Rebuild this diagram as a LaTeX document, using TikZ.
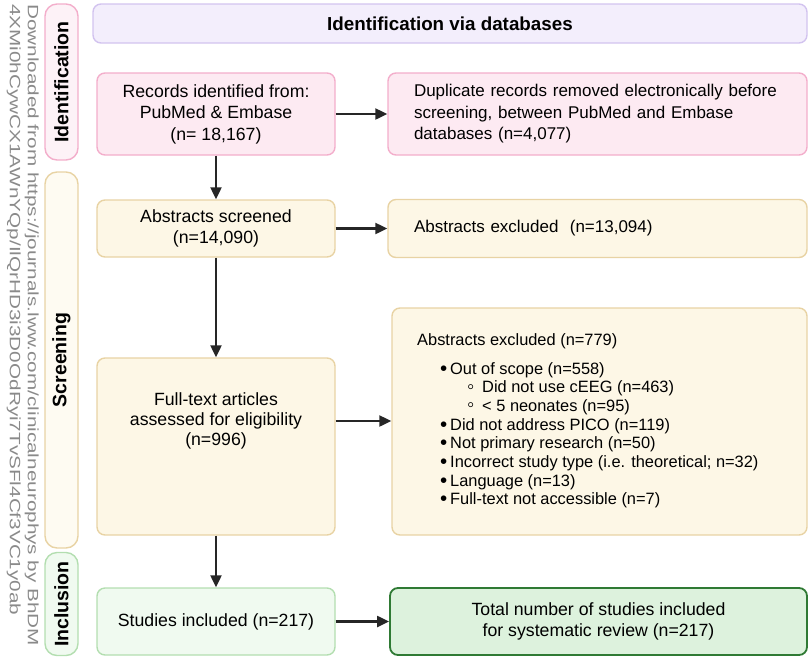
\documentclass[tikz,border=0pt]{standalone}
\usepackage{fontspec}
\setmainfont{Liberation Sans}
\usetikzlibrary{arrows.meta}
\definecolor{pinkF}{HTML}{FDEAF2}
\definecolor{pinkD}{HTML}{F3AECB}
\definecolor{pinkLF}{HTML}{FDF2F7}
\definecolor{headF}{HTML}{F3EEFC}
\definecolor{headD}{HTML}{D2C3EF}
\definecolor{yelF}{HTML}{FDF7E6}
\definecolor{yelD}{HTML}{E8D3A4}
\definecolor{yelLF}{HTML}{FEFBF2}
\definecolor{grnF}{HTML}{F0FAF0}
\definecolor{grnD}{HTML}{B3DEB0}
\definecolor{totF}{HTML}{DDF2DD}
\definecolor{totD}{HTML}{2F7A34}
\definecolor{wmgray}{HTML}{8A8A8A}
\newcommand{\bul}{\makebox[10pt][l]{\raisebox{-1pt}{\scalebox{1.25}{•}}}}
\newcommand{\subbul}{\makebox[15pt][l]{\raisebox{-0.5pt}{\scalebox{1.25}{◦}}}}
\begin{document}
\begin{tikzpicture}[x=1pt,y=-1pt,
  box/.style={draw, rounded corners=8pt, line width=1.4pt, inner sep=0pt, align=center,
    font=\fontsize{17.7}{21.5}\selectfont},
  rbox/.style={box, align=left, inner xsep=26pt, font=\fontsize{17}{21.5}\selectfont},
  sidelab/.style={draw, rounded corners=12pt, line width=1.4pt, rotate=90, inner sep=0pt,
    minimum height=33pt, font=\bfseries\fontsize{19.5}{19.5}\selectfont},
  arr/.style={draw=black!85, line width=2.2pt, -{Triangle[length=12pt,width=11pt]}},
  wm/.style={rotate=-90, anchor=north west, inner sep=0pt, text=wmgray}
]
\useasboundingbox (0,0) rectangle (809,657);

% watermark
\node[wm] (wm1) at (39,4) {\scalebox{1.38}[1]{\fontsize{15}{15}\selectfont Downloaded from https://journals.lww.com/clinicalneurophys by BhDM}};
\node[wm] (wm2) at (21,4) {\scalebox{1.38}[1]{\fontsize{15}{15}\selectfont 4XMi0hCywCX1AWnYQp/IlQrHD3i3D0OdRyi7TvSFl4Cf3VC1y0ab}};

% side labels
\node[sidelab, fill=pinkLF, draw=pinkD, minimum width=156pt] (idlab) at (61.5,82) {Identification};
\node[sidelab, fill=yelLF, draw=yelD, minimum width=376pt] (sclab) at (61.5,360) {Screening};
\node[sidelab, fill=grnF, draw=grnD, minimum width=103pt] (inlab) at (61.5,604) {Inclusion};

% header
\node[box, fill=headF, draw=headD, minimum width=714pt, minimum height=39pt,
  font=\bfseries\fontsize{18.8}{20}\selectfont] (head) at (450,23.5) {Identification via databases};

% identification row
\node[box, fill=pinkF, draw=pinkD, minimum width=238pt, minimum height=82pt] (rec) at (216,114)
  {Records identified from:\\PubMed \& Embase\\(n= 18,167)};
\node[rbox, fill=pinkF, draw=pinkD, text width=367pt, minimum height=82pt] (dup) at (597.5,114)
  {Duplicate records removed electronically before\\screening, between PubMed and Embase\\databases (n=4,077)};

% screening row
\node[box, fill=yelF, draw=yelD, minimum width=238pt, minimum height=57pt] (scr) at (216,228.5)
  {Abstracts screened\\(n=14,090)};
\node[rbox, fill=yelF, draw=yelD, text width=367pt, minimum height=58pt] (absx) at (597.5,228.5)
  {Abstracts excluded~ (n=13,094)};

% full text
\node[box, fill=yelF, draw=yelD, minimum width=238pt, minimum height=177pt] (full) at (216,446.5) {};
\node[align=center, inner sep=0pt, font=\fontsize{17.7}{20}\selectfont] (fulltxt) at (216,421)
  {Full-text articles\\assessed for eligibility\\(n=996)};

\node[box, fill=yelF, draw=yelD, minimum width=415pt, minimum height=227pt] (exc) at (599.5,421.5) {};
\node[anchor=north west, align=left, inner sep=0pt, font=\fontsize{16.4}{18.7}\selectfont] (exctxt) at (417,333)
  {Abstracts excluded (n=779)\\[10.3pt]
   \hspace*{23pt}\bul Out of scope (n=558)\\
   \hspace*{50pt}\subbul Did not use cEEG (n=463)\\
   \hspace*{50pt}\subbul < 5 neonates (n=95)\\
   \hspace*{23pt}\bul Did not address PICO (n=119)\\
   \hspace*{23pt}\bul Not primary research (n=50)\\
   \hspace*{23pt}\bul Incorrect study type (i.e. theoretical; n=32)\\
   \hspace*{23pt}\bul Language (n=13)\\
   \hspace*{23pt}\bul Full-text not accessible (n=7)};

% inclusion
\node[box, fill=grnF, draw=grnD, minimum width=238pt, minimum height=67pt] (stu) at (216,621.5)
  {Studies included (n=217)};
\node[box, fill=totF, draw=totD, line width=1.8pt, minimum width=417pt, minimum height=67pt] (tot) at (598.5,621.5)
  {Total number of studies included\\for systematic review (n=217)};

% connectors
\draw[arr] (rec.south) -- (scr.north);
\draw[arr] (scr.south) -- (full.north);
\draw[arr] (full.south) -- (stu.north);
\draw[arr] (rec.east) -- (dup.west);
\draw[arr] (scr.east) -- (absx.west);
\draw[arr] (full.east |- fulltxt) -- (exc.west |- fulltxt);
\draw[arr] (stu.east) -- (tot.west);
\end{tikzpicture}
\end{document}
